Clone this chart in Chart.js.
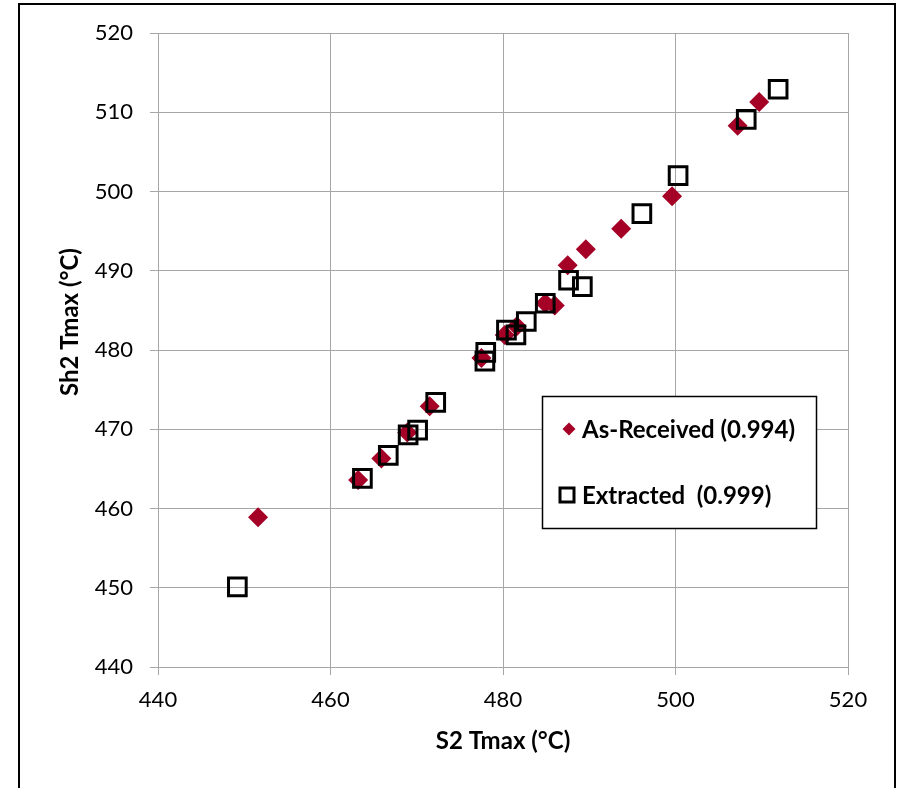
<!DOCTYPE html>
<html>
<head>
<meta charset="utf-8">
<script src="https://cdn.jsdelivr.net/npm/chart.js@4.4.1/dist/chart.umd.min.js"></script>
<style>
  html, body { margin: 0; padding: 0; background: #ffffff; }
  #wrap { position: relative; width: 901px; height: 788px; }
</style>
</head>
<body>
<div id="wrap"><canvas id="c" width="901" height="788"></canvas></div>
<script>
// ---- Data ----
const asReceivedX = [451.6, 463.2, 465.9, 468.9, 471.5, 477.5, 480.2, 481.6, 484.9, 486.0, 487.5, 489.6, 493.7, 499.6, 507.2, 509.7];
const asReceivedY = [458.9, 463.6, 466.3, 469.6, 472.9, 479.0, 481.9, 483.0, 485.9, 485.6, 490.7, 492.7, 495.3, 499.4, 508.3, 511.3];
const extractedX = [449.2, 463.7, 466.7, 469.0, 470.1, 472.2, 478.0, 477.9, 480.4, 481.5, 482.7, 484.9, 487.6, 489.2, 496.1, 500.3, 508.2, 511.9];
const extractedY = [450.1, 463.8, 466.7, 469.3, 469.9, 473.4, 479.7, 478.6, 482.5, 481.9, 483.6, 485.9, 488.8, 488.0, 497.2, 502.0, 509.1, 512.9];
const seriesLabels = ['As-Received (0.994)', 'Extracted  (0.999)'];
const xTicks = [440, 460, 480, 500, 520];
const yTicks = [440, 450, 460, 470, 480, 490, 500, 510, 520];
const xTitle = 'S2 Tmax (°C)';
const yTitle = 'Sh2 Tmax (°C)';

const RED = '#A50026';
const GRID = '#A6A6A6';
const FONT = 'Lato, "Open Sans", sans-serif';

const toPts = (xs, ys) => xs.map((x, i) => ({ x: x, y: ys[i] }));

const framePlugin = {
  id: 'frame',
  beforeDraw(chart) {
    const ctx = chart.ctx;
    ctx.save();
    ctx.fillStyle = '#ffffff';
    ctx.fillRect(0, 0, chart.width, chart.height);
    ctx.strokeStyle = '#000000';
    ctx.lineWidth = 2;
    ctx.strokeRect(19, 4, 876, 820);
    ctx.restore();
  },
  afterDraw(chart) {
    // y-axis title (Excel places it slightly above the axis centre)
    const ctx = chart.ctx;
    ctx.save();
    ctx.translate(70, 322);
    ctx.rotate(-Math.PI / 2);
    ctx.font = 'bold 24px ' + FONT;
    ctx.fillStyle = '#000000';
    ctx.textAlign = 'center';
    ctx.textBaseline = 'middle';
    ctx.fillText(yTitle, 0, 0);
    ctx.restore();
  }
};

const legendPlugin = {
  id: 'boxLegend',
  afterDatasetsDraw(chart) {
    const ctx = chart.ctx;
    const left = 542, top = 396, w = 274, h = 132;
    ctx.save();
    ctx.fillStyle = '#ffffff';
    ctx.fillRect(left, top, w, h);
    ctx.strokeStyle = '#000000';
    ctx.lineWidth = 1.5;
    ctx.strokeRect(left + 0.5, top + 0.5, w, h);
    ctx.font = 'bold 24px ' + FONT;
    ctx.textBaseline = 'middle';
    ctx.textAlign = 'left';
    const r1y = 429, r2y = 495;
    // row 1: diamond
    ctx.fillStyle = RED;
    ctx.beginPath();
    ctx.moveTo(569 - 6.5, r1y); ctx.lineTo(569, r1y - 6.5); ctx.lineTo(569 + 6.5, r1y); ctx.lineTo(569, r1y + 6.5);
    ctx.closePath(); ctx.fill();
    ctx.fillStyle = '#000000';
    ctx.fillText(seriesLabels[0], 582, r1y + 1);
    // row 2: square
    ctx.strokeStyle = '#000000';
    ctx.lineWidth = 3;
    ctx.strokeRect(567 - 7, r2y - 7, 14, 14);
    ctx.fillText(seriesLabels[1], 582, r2y + 1);
    ctx.restore();
  }
};

new Chart(document.getElementById('c'), {
  type: 'scatter',
  data: {
    datasets: [
      {
        label: seriesLabels[0],
        data: toPts(asReceivedX, asReceivedY),
        pointStyle: 'rectRot',
        pointRadius: 10,
        pointHoverRadius: 10,
        backgroundColor: RED,
        borderColor: RED,
        borderWidth: 0,
        order: 1
      },
      {
        label: seriesLabels[1],
        data: toPts(extractedX, extractedY),
        pointStyle: 'rect',
        pointRadius: 12.5,
        pointHoverRadius: 12.5,
        backgroundColor: 'rgba(0,0,0,0)',
        borderColor: '#000000',
        borderWidth: 3,
        order: 0
      }
    ]
  },
  plugins: [framePlugin, legendPlugin],
  options: {
    responsive: false,
    animation: false,
    devicePixelRatio: 1,
    layout: { padding: { left: 0, right: 53, top: 33, bottom: 0 } },
    plugins: {
      legend: { display: false },
      tooltip: { enabled: false }
    },
    scales: {
      x: {
        type: 'linear',
        min: 440, max: 520,
        afterBuildTicks(scale) { scale.ticks = xTicks.map(v => ({ value: v })); },
        afterFit(scale) { scale.height = 121; },
        grid: { color: GRID, lineWidth: 1, tickLength: 8, drawTicks: true },
        border: { color: GRID, width: 1 },
        ticks: { color: '#000000', font: { family: FONT, size: 22 }, padding: 12, maxRotation: 0 },
        title: { display: true, text: xTitle, color: '#000000', font: { family: FONT, size: 24, weight: 'bold' }, padding: { top: 0, bottom: 32 } }
      },
      y: {
        type: 'linear',
        min: 440, max: 520,
        afterBuildTicks(scale) { scale.ticks = yTicks.map(v => ({ value: v })); },
        afterFit(scale) { scale.width = 158; },
        grid: { color: GRID, lineWidth: 1, tickLength: 8, drawTicks: true },
        border: { color: GRID, width: 1 },
        ticks: { color: '#000000', font: { family: FONT, size: 22 }, padding: 17 },
        title: { display: false }
      }
    }
  }
});
</script>
</body>
</html>
